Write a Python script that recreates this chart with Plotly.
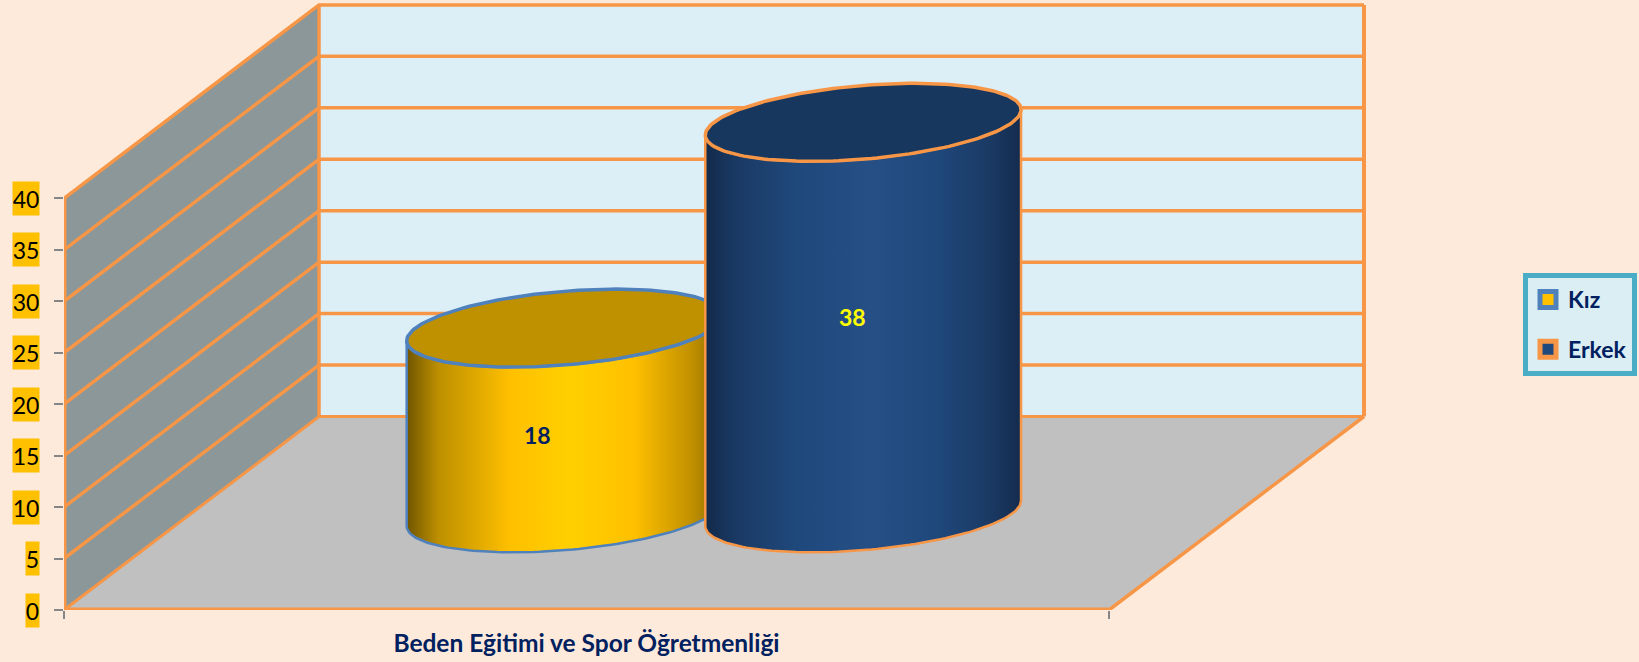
import numpy as np
import plotly.graph_objects as go

# ---- data ----
categories = ["Beden Eğitimi ve Spor Öğretmenliği"]
series_names = ["Kız", "Erkek"]
kiz_values = [18]
erkek_values = [38]
y_ticks = [0, 5, 10, 15, 20, 25, 30, 35, 40]
y_tick_labels = ["0", "5", "10", "15", "20", "25", "30", "35", "40"]

# ---- style / geometry of the oblique projection ----
W, H = 1639, 662
X0, Y0 = 64, 610            # pixel of the origin
CAT_PX, VAL_PX = 1045, 10.29  # pixels per category and per value unit
DX, DY = 255 / CAT_PX, 193.5 / VAL_PX  # full depth expressed in axis units
GAP = 1.5                   # gap width between clusters
DEPTH_C, DEPTH_R = 0.4995, 0.2016

ORANGE = "#F79646"
BLUE_EDGE = "#4F81BD"
NAVY = "#002060"
TICK = "#868686"
FONT = "Lato"


def proj(c, v, d):
    return np.asarray(c) + np.asarray(d) * DX, np.asarray(v) + np.asarray(d) * DY


fig = go.Figure()


def poly(xs, ys, fill, line=None, width=0):
    fig.add_trace(go.Scatter(
        x=list(xs), y=list(ys), mode="lines", fill="toself", fillcolor=fill,
        line=dict(color=line or fill, width=width), hoverinfo="skip",
        showlegend=False, cliponaxis=False))


def seg(pts, color=ORANGE, width=3):
    xs, ys = zip(*pts)
    fig.add_trace(go.Scatter(
        x=list(xs), y=list(ys), mode="lines", line=dict(color=color, width=width),
        hoverinfo="skip", showlegend=False, cliponaxis=False))


vmax = y_ticks[-1]
# side wall, back wall, floor
p = [proj(0, 0, 0), proj(0, 0, 1), proj(0, vmax, 1), proj(0, vmax, 0)]
poly(*zip(*p), "#8C9799")
p = [proj(0, 0, 1), proj(1, 0, 1), proj(1, vmax, 1), proj(0, vmax, 1)]
poly(*zip(*p), "#DCEEF6")
p = [proj(0, 0, 0), proj(1, 0, 0), proj(1, 0, 1), proj(0, 0, 1)]
poly(*zip(*p), "#C0C0C0")

# gridlines over both walls
for v in y_ticks[1:]:
    seg([proj(0, v, 0), proj(0, v, 1), proj(1, v, 1)], width=3.5)
seg([proj(0, 0, 0), proj(0, 0, 1), proj(1, 0, 1)], width=3)
seg([proj(0, 0, 1), proj(0, vmax, 1)], width=3.5)
seg([proj(1, 0, 1), proj(1, vmax, 1)], width=4)
seg([proj(1, 0, 0), proj(1, 0, 1)], width=3.5)
seg([proj(0, 0, 0), proj(1, 0, 0)], width=5)
seg([proj(0, 0, 0), proj(0, vmax, 0)], width=5)


YELLOW_SCALE = [[0, "#6F5500"], [0.1, "#BD8F00"], [0.33, "#FFC000"],
                [0.52, "#FFD000"], [0.72, "#FFC000"], [0.9, "#C29100"], [1, "#8A6A00"]]
BLUE_SCALE = [[0, "#132A4A"], [0.1, "#1A3A64"], [0.3, "#1F497D"], [0.52, "#264F85"],
              [0.72, "#1F497D"], [0.9, "#1A3A64"], [1, "#142B4D"]]


def cylinder(center, half_w, value, scale, top_color, edge):
    t0 = np.arctan2(DEPTH_R * DX * CAT_PX, half_w * CAT_PX)
    t = np.linspace(t0 + np.pi, t0 + 2 * np.pi, 90)
    ax = center + half_w * np.cos(t)
    ad = DEPTH_C + DEPTH_R * np.sin(t)
    x_top, y_top = proj(ax, np.full_like(ax, value), ad)
    x_bot, y_bot = proj(ax, np.zeros_like(ax), ad)
    xs = np.r_[x_top, x_bot[::-1], x_top[0]]
    ys = np.r_[y_top, y_bot[::-1], y_top[0]]
    fig.add_trace(go.Scatter(
        x=xs, y=ys, mode="lines", fill="toself",
        fillgradient=dict(type="horizontal", colorscale=scale,
                          start=float(xs.min()), stop=float(xs.max())),
        line=dict(color=edge, width=2.5), hoverinfo="skip", showlegend=False))
    t = np.linspace(0, 2 * np.pi, 181)
    ax = center + half_w * np.cos(t)
    ad = DEPTH_C + DEPTH_R * np.sin(t)
    xe, ye = proj(ax, np.full_like(ax, value), ad)
    poly(xe, ye, top_color, edge, 3.5)


n = len(series_names)
bar_w = 1 / (n + GAP)
centers = [0.5 + (i - (n - 1) / 2) * bar_w for i in range(n)]
all_values = [kiz_values, erkek_values]
scales = [YELLOW_SCALE, BLUE_SCALE]
tops = ["#BF9000", "#17375E"]
edges = [BLUE_EDGE, ORANGE]
fills = ["#FFC000", "#1F497D"]
label_colors = [NAVY, "#FFFF00"]
label_shift = [(-27, -14), (-11, 1)]

for i in range(n):
    cylinder(centers[i], bar_w / 2, all_values[i][0], scales[i], tops[i], edges[i])

# legend entries
for i in range(n):
    fig.add_trace(go.Scatter(
        x=[None], y=[None], mode="markers", name=series_names[i],
        legendgroup=series_names[i],
        marker=dict(symbol="square", size=16, color=fills[i],
                    line=dict(color=edges[i], width=5))))

# value labels
for i in range(n):
    lx, ly = proj(centers[i], all_values[i][0] / 2, DEPTH_C)
    fig.add_annotation(x=float(lx), y=float(ly), text=str(all_values[i][0]), showarrow=False,
                       xshift=label_shift[i][0], yshift=label_shift[i][1],
                       font=dict(family=FONT, size=23, color=label_colors[i], weight="bold"))

# value axis labels on amber plates
for v, s in zip(y_ticks, y_tick_labels):
    fig.add_annotation(x=0, y=v, text=s, showarrow=False, xanchor="right", xshift=-24,
                       bgcolor="#FFC000", borderpad=0, height=33, width=13 * len(s),
                       font=dict(family=FONT, size=23, color="#000000"))

fig.update_layout(
    width=W, height=H, margin=dict(l=X0, r=0, t=0, b=H - Y0),
    paper_bgcolor="#FDEADA", plot_bgcolor="#FDEADA",
    showlegend=True,
    legend=dict(x=(1523 - X0) / (W - X0), y=1 - 273 / Y0, xanchor="left", yanchor="top",
                bgcolor="#DAEEF3", bordercolor="#4BACC6", borderwidth=5,
                font=dict(family=FONT, size=23, color=NAVY, weight="bold"),
                tracegroupgap=17, itemclick=False, itemdoubleclick=False),
    xaxis=dict(range=[0, (W - X0) / CAT_PX], tickvals=[0.5], ticktext=categories,
               showgrid=False, zeroline=False, showline=False, ticks="",
               ticklabelstandoff=16,
               tickfont=dict(family=FONT, size=24.5, color=NAVY, weight="bold"),
               minor=dict(tickmode="array", tickvals=[0, 1], ticks="outside", ticklen=8,
                          tickwidth=2, tickcolor=TICK, showgrid=False)),
    yaxis=dict(range=[0, Y0 / VAL_PX], tickvals=y_ticks, showticklabels=False,
               showgrid=False, zeroline=False, showline=False,
               ticks="outside", ticklen=9, tickwidth=1.5, tickcolor=TICK),
)

fig.write_html("out.html", config=dict(displayModeBar=False),
               post_script="document.body.style.margin='0';document.body.style.overflow='hidden';")
